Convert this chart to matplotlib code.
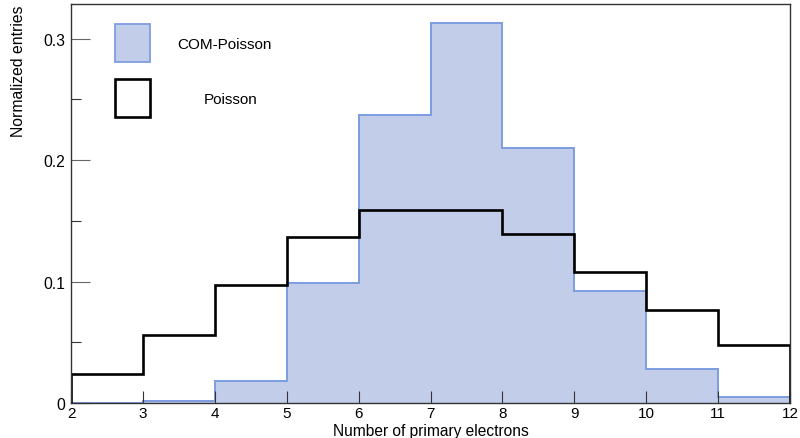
import matplotlib.pyplot as plt
import numpy as np
from matplotlib.patches import Rectangle

plt.rcParams['font.family'] = ['Liberation Sans', 'DejaVu Sans']

# bin edges: number of primary electrons
bin_edges = [2, 3, 4, 5, 6, 7, 8, 9, 10, 11, 12]

# normalized entries per bin
com_poisson = [0.0003, 0.002, 0.018, 0.099, 0.237, 0.313, 0.210, 0.092, 0.028, 0.0046]
poisson = [0.0236, 0.0557, 0.0975, 0.137, 0.1587, 0.1587, 0.139, 0.1077, 0.0763, 0.0477]

x_ticks = [2, 3, 4, 5, 6, 7, 8, 9, 10, 11, 12]
y_ticks = [0, 0.1, 0.2, 0.3]
y_tick_labels = ["0", "0.1", "0.2", "0.3"]

fill_color = "#c2cdea"
edge_color = "#7e9ee0"

fig = plt.figure(figsize=(8, 4.39), dpi=100)
ax = fig.add_axes([0.08875, 0.0797, 0.89875, 0.9089])

ax.stairs(com_poisson, bin_edges, fill=True, facecolor=fill_color,
          edgecolor=edge_color, linewidth=1.3)
ax.stairs(com_poisson, bin_edges, color=edge_color, linewidth=1.3)
ax.stairs(poisson, bin_edges, color="black", linewidth=1.9)

ax.set_xlim(2, 12)
ax.set_ylim(0, 0.3286)

ax.set_xticks(x_ticks)
ax.set_yticks(y_ticks)
ax.set_yticklabels(y_tick_labels)
ax.set_yticks(np.arange(0.05, 0.33, 0.1), minor=True)

ax.tick_params(axis="y", which="major", direction="in", length=13.5,
               width=0.8, color="#666666", labelsize=11.3, pad=4)
ax.tick_params(axis="y", which="minor", direction="in", length=7,
               width=0.8, color="#333333")
ax.tick_params(axis="x", which="major", direction="in", length=8.5,
               width=0.8, color="#333333", labelsize=11, pad=2.5)
ax.tick_params(axis="x", which="minor", bottom=False)

for spine in ax.spines.values():
    spine.set_color("#333333")
    spine.set_linewidth(1.0)

ax.set_xlabel("Number of primary electrons", fontsize=11.2)
ax.xaxis.set_label_coords(0.5, -0.051)
ax.set_ylabel("Normalized entries", fontsize=11.3)
ax.yaxis.set_label_coords(-0.062, 1.0)
ax.yaxis.label.set_horizontalalignment("right")

# legend drawn ROOT-style
ax.add_patch(Rectangle((0.061, 0.855), 0.049, 0.095, transform=ax.transAxes,
                       facecolor=fill_color, edgecolor=edge_color,
                       linewidth=1.3, clip_on=False))
ax.add_patch(Rectangle((0.061, 0.717), 0.049, 0.095, transform=ax.transAxes,
                       facecolor="white", edgecolor="black",
                       linewidth=1.9, clip_on=False))
ax.text(0.214, 0.90, "COM-Poisson", transform=ax.transAxes, fontsize=11,
        ha="center", va="center")
ax.text(0.2225, 0.762, "Poisson", transform=ax.transAxes, fontsize=11,
        ha="center", va="center")

fig.savefig("out.png", dpi=100)
